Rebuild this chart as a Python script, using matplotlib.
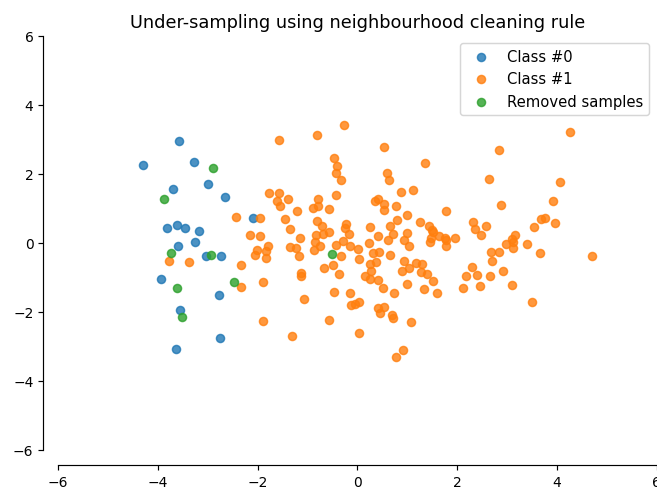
import matplotlib
matplotlib.use("Agg")
import matplotlib.pyplot as plt
import numpy as np

# samples kept for class 0
class0_x = [-3.57, -4.30, -3.27, -2.99, -3.70, -2.65, -3.81, -3.61, -3.45, -3.18,
            -2.09, -3.59, -3.25, -3.03, -2.73, -3.93, -2.78, -3.55, -2.76, -3.63]
class0_y = [2.95, 2.24, 2.34, 1.69, 1.56, 1.32, 0.43, 0.52, 0.42, 0.33,
            0.71, -0.09, 0.02, -0.39, -0.40, -1.06, -1.52, -1.95, -2.76, -3.08]

# samples kept for class 1
class1_x = [-1.78, -2.44, -1.96, -2.16, -1.96, -1.80, -2.02, -2.05, -1.84, -1.83,
            -3.78, -3.37, -2.33, -2.33, -1.90, -1.90,
            -0.27, -1.58, -0.82, -0.48, -0.41, -0.43, -0.34, -1.58, -1.61, -1.55,
            -1.39, -1.22, -0.43, -0.79, -0.90, -0.79, -0.58, -1.45, -1.35, -0.82,
            -0.72, -0.57, -0.83, -0.70, -0.23, -0.26, -0.17, -0.30, -1.15, -1.35,
            -1.23, -1.17, -0.85, -0.75, -0.88, -0.44, -0.14, -0.34, 0.02, -0.68,
            -0.49, -0.38, -1.13, -1.13, -1.08, -0.48, -0.15, -0.13, -0.04, 0.03,
            -0.58, -1.31, 0.03,
            0.54, 1.35, 0.60, 0.63, 0.88, 1.11, 0.41, 0.36, 0.54, 0.54,
            0.77, 1.77, 0.26, 0.80, 1.00, 0.66, 1.26, 1.43, 1.49, 1.51,
            2.31, 2.36, 0.41, 0.71, 1.00, 1.64, 1.76, 1.95,
            0.24, 0.62, 0.93, 1.04, 1.45, 1.47, 1.77, 1.77, 0.04, 0.31,
            0.44, 0.37, 0.25, 0.66, 0.28, 0.15, 0.25, 0.42, 0.52, 0.73,
            0.94, 0.90, 1.03, 1.18, 1.30, 1.28, 1.40, 1.52, 0.99, 1.33,
            1.59, 2.29, 2.18, 2.40, 2.12, 2.46, 0.41, 0.53, 0.45, 0.70,
            0.72, 1.08, 0.92, 0.77,
            4.27, 2.83, 2.63, 4.06, 3.93, 2.87, 2.58, 2.47, 3.69, 3.76,
            3.96, 3.55, 3.16, 3.09,
            3.11, 2.97, 3.12, 3.40, 3.67, 4.70, 2.68, 2.84, 2.69, 2.65,
            2.91, 3.10, 3.50]
class1_y = [1.45, 0.74, 0.71, 0.21, 0.19, -0.09, -0.22, -0.35, -0.24, -0.43,
            -0.53, -0.57, -0.65, -1.27, -1.15, -2.28,
            3.42, 2.99, 3.12, 2.45, 2.23, 2.01, 1.82, 1.43, 1.21, 1.06,
            1.26, 0.92, 1.38, 1.26, 1.01, 1.05, 0.98, 0.70, 0.39, 0.63,
            0.47, 0.30, 0.23, 0.25, 0.55, 0.43, 0.24, 0.05, 0.14, -0.12,
            -0.14, -0.39, 0.03, -0.09, -0.22, -0.06, -0.09, -0.40, -0.18, -0.72,
            -0.65, -0.90, -0.87, -0.96, -1.64, -1.43, -1.46, -1.80, -1.77, -1.72,
            -2.23, -2.69, -2.61,
            2.77, 2.31, 2.01, 1.81, 1.48, 1.54, 1.26, 1.21, 1.12, 0.95,
            1.06, 0.92, 0.46, 0.65, 0.79, 0.47, 0.61, 0.49, 0.38, 0.31,
            0.59, 0.39, 0.20, 0.25, 0.28, 0.18, 0.13, 0.13,
            -0.01, 0.08, 0.07, -0.10, 0.01, 0.15, -0.09, 0.07, -0.47, -0.31,
            -0.28, -0.56, -0.63, -0.37, -0.83, -0.96, -1.06, -1.09, -1.31, -1.46,
            -0.54, -0.81, -0.73, -0.60, -0.62, -0.85, -0.91, -1.11, -1.21, -1.34,
            -1.46, -0.71, -0.96, -0.94, -1.30, -1.25, -1.88, -1.85, -2.03, -2.11,
            -2.18, -2.29, -3.10, -3.30,
            3.20, 2.68, 1.85, 1.76, 1.21, 1.08, 0.49, 0.22, 0.68, 0.71,
            0.56, 0.46, 0.23, 0.12,
            0.03, -0.03, -0.14, -0.03, -0.31, -0.40, -0.28, -0.28, -0.54, -0.96,
            -0.81, -1.24, -1.73]

# samples dropped by the cleaning rule
removed_x = [-2.89, -3.87, -3.74, -2.94, -2.48, -3.61, -3.51, -0.51]
removed_y = [2.16, 1.26, -0.31, -0.37, -1.15, -1.30, -2.14, -0.32]

DPI = 106.4
fig = plt.figure(figsize=(657 / DPI, 489 / DPI), dpi=DPI)
ax = fig.add_subplot(1, 1, 1)
fig.subplots_adjust(left=0.0887, right=0.9995, bottom=0.0783, top=0.925)

ax.scatter(class0_x, class0_y, s=30, label='Class #0', alpha=0.8)
ax.scatter(class1_x, class1_y, s=30, label='Class #1', alpha=0.8)
ax.scatter(removed_x, removed_y, s=30, label='Removed samples', alpha=0.8)

# make nice plotting
ax.spines['top'].set_visible(False)
ax.spines['right'].set_visible(False)
ax.get_xaxis().tick_bottom()
ax.get_yaxis().tick_left()
ax.spines['left'].set_position(('outward', 10.5))
ax.spines['bottom'].set_position(('outward', 10.5))
ax.tick_params(labelsize=9.4, length=3.3, pad=3.0)
ax.set_xlim([-6, 6])
ax.set_ylim([-6, 6])

ax.set_title('Under-sampling using neighbourhood cleaning rule')
ax.legend(loc='upper right')

fig.savefig('out.png', dpi=DPI)
